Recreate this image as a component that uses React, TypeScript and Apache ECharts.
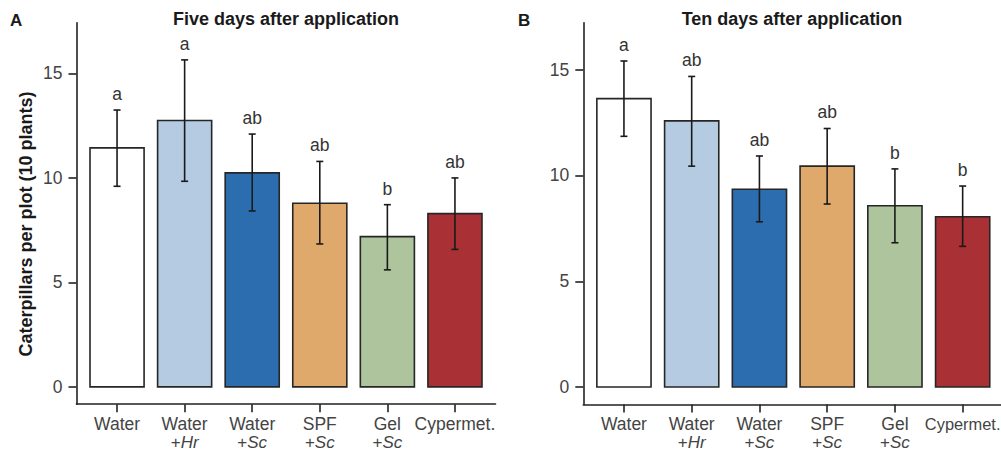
import React, { useEffect, useRef } from "react";
import * as echarts from "echarts";

// ---- data ----
const categoryNames = ["Water", "Water", "Water", "SPF", "Gel", "Cypermet."];
const categoryAgents = ["", "Hr", "Sc", "Sc", "Sc", ""];
const barColors = ["#FFFFFF", "#B4CBE1", "#2C6DAF", "#DFA96B", "#AEC49C", "#A93136"];

const fiveMean = [11.44, 12.75, 10.24, 8.79, 7.19, 8.29];
const fiveLow = [9.6, 9.84, 8.42, 6.84, 5.6, 6.58];
const fiveHigh = [13.25, 15.65, 12.1, 10.79, 8.72, 10.0];
const fiveLetters = ["a", "a", "ab", "ab", "b", "ab"];

const tenMean = [13.63, 12.58, 9.35, 10.44, 8.57, 8.05];
const tenLow = [11.85, 10.44, 7.81, 8.65, 6.82, 6.65];
const tenHigh = [15.41, 14.68, 10.92, 12.22, 10.31, 9.5];
const tenLetters = ["a", "ab", "ab", "ab", "b", "b"];

const yTicks = [0, 5, 10, 15];
const xPositions = [1, 2, 3, 4, 5, 6];

const FONT = "'Liberation Sans', Arial, sans-serif";
const AXIS_COLOR = "#222222";
const TEXT_COLOR = "#444444";

function makeRender(letters: string[]) {
  return (params: any, api: any) => {
    const i = params.dataIndex;
    const x = api.value(0);
    const m = api.value(1);
    const lo = api.value(2);
    const hi = api.value(3);
    const bl = api.coord([x - 0.4, 0]);
    const tr = api.coord([x + 0.4, m]);
    const pLo = api.coord([x, lo]);
    const pHi = api.coord([x, hi]);
    const cap = 3.5;
    const es = { stroke: "#1a1a1a", lineWidth: 1.6 };
    return {
      type: "group",
      children: [
        {
          type: "rect",
          shape: { x: bl[0], y: tr[1], width: tr[0] - bl[0], height: bl[1] - tr[1] },
          style: { fill: barColors[i], stroke: "#262626", lineWidth: 1.6 },
        },
        { type: "line", shape: { x1: pLo[0], y1: pLo[1], x2: pHi[0], y2: pHi[1] }, style: es },
        { type: "line", shape: { x1: pLo[0] - cap, y1: pLo[1], x2: pLo[0] + cap, y2: pLo[1] }, style: es },
        { type: "line", shape: { x1: pHi[0] - cap, y1: pHi[1], x2: pHi[0] + cap, y2: pHi[1] }, style: es },
        {
          type: "text",
          x: pHi[0],
          y: pHi[1] - 16,
          style: {
            text: letters[i],
            textAlign: "center",
            textVerticalAlign: "middle",
            font: `17.5px ${FONT}`,
            fill: "#333333",
          },
        },
      ],
    };
  };
}

function makeXLabel(edgePanel: boolean) {
  return (value: number) => {
    const i = Math.round(value) - 1;
    const agent = categoryAgents[i];
    if (agent) return `${categoryNames[i]}\n{s|+}{i|${agent}}`;
    if (edgePanel && i === categoryNames.length - 1) return `{c|${categoryNames[i]}}`;
    return categoryNames[i];
  };
}

function makeXAxis(gridIndex: number) {
  return {
    type: "value",
    gridIndex,
    min: 0.4,
    max: 6.6,
    splitLine: { show: false },
    axisLine: { show: true, onZero: false, lineStyle: { color: AXIS_COLOR, width: 1.6 } },
    axisTick: { show: true, customValues: xPositions, length: 8, lineStyle: { color: AXIS_COLOR, width: 1.6 } },
    axisLabel: {
      customValues: xPositions,
      formatter: makeXLabel(gridIndex === 1),
      margin: 9,
      fontSize: 17.5,
      fontFamily: FONT,
      color: TEXT_COLOR,
      lineHeight: 22,
      rich: {
        s: { fontSize: 17, fontFamily: FONT, color: TEXT_COLOR, lineHeight: 14 },
        i: { fontStyle: "italic", fontSize: 17, fontFamily: FONT, color: TEXT_COLOR, lineHeight: 14 },
        c: { fontSize: 16.4, fontFamily: FONT, color: TEXT_COLOR, lineHeight: 22 },
      },
    },
  };
}

function makeYAxis(gridIndex: number, min: number, max: number) {
  return {
    type: "value",
    gridIndex,
    min,
    max,
    splitLine: { show: false },
    axisLine: { show: true, onZero: false, lineStyle: { color: AXIS_COLOR, width: 1.6 } },
    axisTick: { show: true, customValues: yTicks, length: 8, lineStyle: { color: AXIS_COLOR, width: 1.6 } },
    axisLabel: {
      customValues: yTicks,
      margin: 14,
      fontSize: 17.5,
      fontFamily: FONT,
      color: TEXT_COLOR,
    },
  };
}

export default function App() {
  const ref = useRef<HTMLDivElement>(null);
  useEffect(() => {
    if (!ref.current) return;
    const chart = echarts.init(ref.current, null, { renderer: "svg" });
    const option: any = {
      animation: false,
      backgroundColor: "#ffffff",
      grid: [
        { left: 76.5, top: 22.7, width: 419, height: 381.5, outerBoundsMode: "none", containLabel: false },
        { left: 583.3, top: 22.7, width: 420, height: 381.7, outerBoundsMode: "none", containLabel: false },
      ],
      xAxis: [makeXAxis(0), makeXAxis(1)],
      yAxis: [makeYAxis(0, -0.83, 17.43), makeYAxis(1, -0.82, 17.22)],
      series: [
        {
          type: "custom",
          xAxisIndex: 0,
          yAxisIndex: 0,
          renderItem: makeRender(fiveLetters),
          data: fiveMean.map((m, i) => [xPositions[i], m, fiveLow[i], fiveHigh[i]]),
          clip: false,
        },
        {
          type: "custom",
          xAxisIndex: 1,
          yAxisIndex: 1,
          renderItem: makeRender(tenLetters),
          data: tenMean.map((m, i) => [xPositions[i], m, tenLow[i], tenHigh[i]]),
          clip: false,
        },
      ],
      graphic: [
        {
          type: "text",
          x: 286,
          y: 19,
          style: {
            text: "Five days after application",
            textAlign: "center",
            textVerticalAlign: "middle",
            font: `bold 18px ${FONT}`,
            fill: "#1a1a1a",
          },
        },
        {
          type: "text",
          x: 792,
          y: 19,
          style: {
            text: "Ten days after application",
            textAlign: "center",
            textVerticalAlign: "middle",
            font: `bold 18px ${FONT}`,
            fill: "#1a1a1a",
          },
        },
        {
          type: "text",
          x: 10,
          y: 20,
          style: { text: "A", textVerticalAlign: "middle", font: `bold 17px ${FONT}`, fill: "#1a1a1a" },
        },
        {
          type: "text",
          x: 518,
          y: 20,
          style: { text: "B", textVerticalAlign: "middle", font: `bold 17px ${FONT}`, fill: "#1a1a1a" },
        },
        {
          type: "text",
          x: 26,
          y: 224,
          rotation: Math.PI / 2,
          style: {
            text: "Caterpillars per plot (10 plants)",
            textAlign: "center",
            textVerticalAlign: "middle",
            font: `bold 18px ${FONT}`,
            fill: "#1a1a1a",
          },
        },
      ],
    };
    chart.setOption(option);
    return () => chart.dispose();
  }, []);
  return (
    <div
      ref={ref}
      style={{ position: "absolute", left: 0, top: 0, width: 1001, height: 452 }}
    />
  );
}
